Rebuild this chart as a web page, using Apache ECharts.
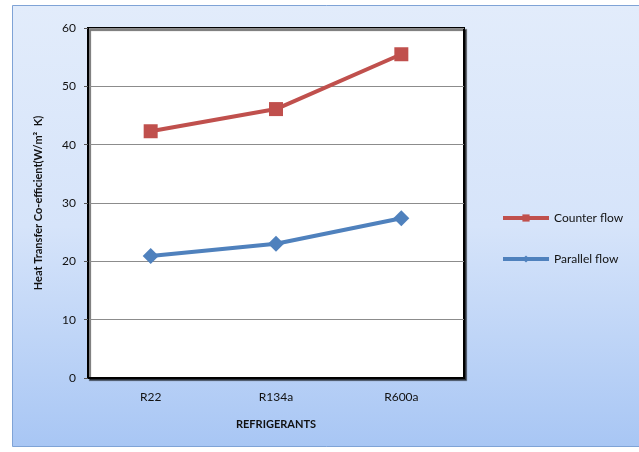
<!DOCTYPE html>
<html>
<head>
<meta charset="utf-8">
<script src="https://cdn.jsdelivr.net/npm/echarts@6/dist/echarts.min.js"></script>
<style>
  html, body { margin: 0; padding: 0; background: #ffffff; }
  #chart { width: 639px; height: 452px; }
</style>
</head>
<body>
<div id="chart"></div>
<script>
// Refrigerant categories and heat transfer coefficients (W/m² K)
const categories = ['R22', 'R134a', 'R600a'];
const counterFlow = [42.3, 46.1, 55.5];
const parallelFlow = [20.9, 23.0, 27.4];
const yTicks = { min: 0, max: 60, interval: 10 };

const chart = echarts.init(document.getElementById('chart'), null, { renderer: 'canvas' });

const font = 'Lato, "Liberation Sans", Arial, sans-serif';

chart.setOption({
  animation: false,
  graphic: [{
    type: 'rect',
    z: -10,
    shape: { x: 12.5, y: 5.5, width: 640, height: 441 },
    style: {
      fill: new echarts.graphic.LinearGradient(0, 0, 0, 1, [
        { offset: 0, color: '#e2ecfb' },
        { offset: 0.5, color: '#d6e4fa' },
        { offset: 1, color: '#a8c6f4' }
      ]),
      stroke: '#7fa3d6',
      lineWidth: 1
    }
  }],
  grid: {
    left: 88, right: 175, top: 28, bottom: 74,
    show: true,
    backgroundColor: '#ffffff',
    borderColor: '#000000',
    borderWidth: 2,
    shadowColor: 'rgba(0,0,0,0.55)',
    shadowOffsetX: 2,
    shadowOffsetY: 2,
    shadowBlur: 1
  },
  legend: {
    orient: 'vertical',
    left: 496,
    top: 207,
    itemGap: 29,
    itemWidth: 46,
    itemHeight: 9,
    lineStyle: { width: 4 },
    textStyle: { fontFamily: font, fontSize: 12, color: '#111' },
    data: ['Counter flow', 'Parallel flow']
  },
  xAxis: {
    type: 'category',
    data: categories,
    boundaryGap: true,
    name: 'REFRIGERANTS',
    nameLocation: 'middle',
    nameGap: 41,
    nameTextStyle: { fontFamily: font, fontSize: 11, fontWeight: 'bold', color: '#111' },
    axisLine: { show: true, lineStyle: { color: '#000', width: 2 } },
    axisTick: { show: false },
    axisLabel: { fontFamily: font, fontSize: 12, color: '#111', margin: 13 }
  },
  yAxis: {
    type: 'value',
    min: yTicks.min, max: yTicks.max, interval: yTicks.interval,
    name: 'Heat Transfer Co-efficient(W/m²  K)',
    nameLocation: 'middle',
    nameGap: 44,
    nameTextStyle: { fontFamily: font, fontSize: 11, fontWeight: 'bold', color: '#111' },
    axisLine: { show: true, lineStyle: { color: '#000', width: 2 } },
    axisTick: { show: true, length: 4, lineStyle: { color: '#555' } },
    axisLabel: { fontFamily: font, fontSize: 12, color: '#111', margin: 12 },
    splitLine: { show: true, lineStyle: { color: '#8c8c8c', width: 1 } }
  },
  series: [
    {
      name: 'Counter flow',
      type: 'line',
      data: counterFlow,
      symbol: 'rect',
      symbolSize: 14,
      itemStyle: { color: '#c0504d' },
      lineStyle: { color: '#c0504d', width: 4 },
      z: 3
    },
    {
      name: 'Parallel flow',
      type: 'line',
      data: parallelFlow,
      symbol: 'diamond',
      symbolSize: 16,
      itemStyle: { color: '#4f81bd' },
      lineStyle: { color: '#4f81bd', width: 4 },
      z: 3
    }
  ]
});
</script>
</body>
</html>
